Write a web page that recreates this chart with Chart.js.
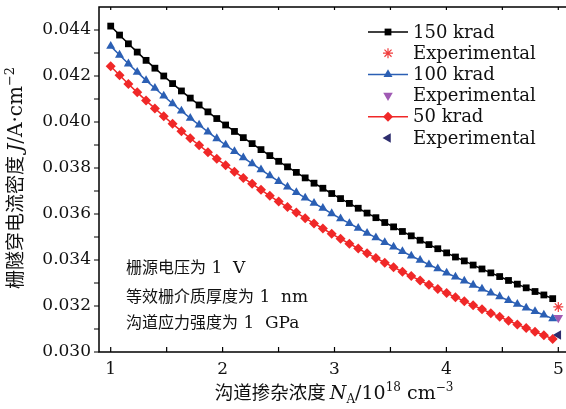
<!DOCTYPE html>
<html>
<head>
<meta charset="utf-8">
<script src="https://cdn.jsdelivr.net/npm/chart.js@4.4.1/dist/chart.umd.min.js"></script>
<style>
  html, body { margin: 0; padding: 0; background: #fff; }
</style>
</head>
<body>
<canvas id="jChart" width="566" height="409"></canvas>
<script>
// doping concentration N_A (1e18 cm^-3)
const xValues = [1.000, 1.079, 1.158, 1.237, 1.316, 1.395, 1.474, 1.553, 1.632, 1.711,
    1.790, 1.869, 1.948, 2.027, 2.106, 2.185, 2.264, 2.343, 2.422, 2.501,
    2.580, 2.659, 2.738, 2.817, 2.896, 2.975, 3.054, 3.133, 3.212, 3.291,
    3.370, 3.449, 3.528, 3.607, 3.686, 3.765, 3.844, 3.923, 4.002, 4.081,
    4.160, 4.239, 4.318, 4.397, 4.476, 4.555, 4.634, 4.713, 4.792, 4.871, 4.950];

// gate tunnelling current density J (A/cm^2)
const j150 = [0.04417, 0.04378, 0.04340, 0.04304, 0.04268, 0.04234, 0.04200, 0.04167, 0.04135, 0.04104,
    0.04074, 0.04044, 0.04015, 0.03987, 0.03959, 0.03932, 0.03906, 0.03880, 0.03854, 0.03829,
    0.03805, 0.03781, 0.03757, 0.03734, 0.03712, 0.03689, 0.03667, 0.03646, 0.03625, 0.03604,
    0.03584, 0.03563, 0.03544, 0.03524, 0.03505, 0.03486, 0.03467, 0.03449, 0.03431, 0.03413,
    0.03396, 0.03378, 0.03361, 0.03344, 0.03328, 0.03311, 0.03295, 0.03279, 0.03263, 0.03248, 0.03232];
const j100 = [0.04330, 0.04291, 0.04253, 0.04217, 0.04181, 0.04147, 0.04113, 0.04080, 0.04048, 0.04017,
    0.03987, 0.03957, 0.03928, 0.03900, 0.03872, 0.03845, 0.03819, 0.03793, 0.03767, 0.03742,
    0.03718, 0.03694, 0.03670, 0.03647, 0.03625, 0.03602, 0.03580, 0.03559, 0.03538, 0.03517,
    0.03497, 0.03476, 0.03457, 0.03437, 0.03418, 0.03399, 0.03380, 0.03362, 0.03344, 0.03326,
    0.03309, 0.03291, 0.03274, 0.03257, 0.03241, 0.03224, 0.03208, 0.03192, 0.03176, 0.03161, 0.03145];
const j50 = [0.04242, 0.04203, 0.04165, 0.04129, 0.04093, 0.04059, 0.04025, 0.03992, 0.03960, 0.03929,
    0.03899, 0.03869, 0.03840, 0.03812, 0.03784, 0.03757, 0.03731, 0.03705, 0.03679, 0.03654,
    0.03630, 0.03606, 0.03582, 0.03559, 0.03537, 0.03514, 0.03492, 0.03471, 0.03450, 0.03429,
    0.03409, 0.03388, 0.03369, 0.03349, 0.03330, 0.03311, 0.03292, 0.03274, 0.03256, 0.03238,
    0.03221, 0.03203, 0.03186, 0.03169, 0.03153, 0.03136, 0.03120, 0.03104, 0.03088, 0.03073, 0.03057];

// experimental points
const expX = [5];
const exp150 = [0.03196];
const exp100 = [0.03149];
const exp50 = [0.03074];

const xTicks = [1, 2, 3, 4, 5];
const xMinorTicks = [1, 1.5, 2, 2.5, 3, 3.5, 4, 4.5, 5];
const yTicks = [0.030, 0.032, 0.034, 0.036, 0.038, 0.040, 0.042, 0.044];
const yMinorTicks = [0.030, 0.031, 0.032, 0.033, 0.034, 0.035, 0.036, 0.037, 0.038, 0.039, 0.040, 0.041, 0.042, 0.043, 0.044];

const legendLabels = ['150 krad', 'Experimental', '100 krad', 'Experimental', '50 krad', 'Experimental'];
const noteLines = [
    ['栅源电压为', '1  V'],
    ['等效栅介质厚度为', '1  nm'],
    ['沟道应力强度为', '1  GPa']
];

const SERIF = '"DejaVu Serif", serif';
const CJK = '"Noto Sans CJK SC", sans-serif';

const pts = ys => ys.map((y, i) => ({ x: xValues[i], y: y }));
const expPts = ys => ys.map((y, i) => ({ x: expX[i], y: y }));

const datasets = [
    { label: legendLabels[0], data: pts(j150), showLine: true, borderColor: '#000000', backgroundColor: '#000000',
      borderWidth: 1.5, pointStyle: 'rect', pointRadius: 4.8, pointBorderWidth: 0 },
    { label: legendLabels[1], data: expPts(exp150), showLine: false, borderColor: '#f03c3c', backgroundColor: '#f03c3c',
      pointStyle: 'star', pointRadius: 5, pointBorderWidth: 1.2 },
    { label: legendLabels[2], data: pts(j100), showLine: true, borderColor: '#2b5fb4', backgroundColor: '#2b5fb4',
      borderWidth: 1.5, pointStyle: 'triangle', pointRadius: 5.2, pointBorderWidth: 0 },
    { label: legendLabels[3], data: expPts(exp100), showLine: false, borderColor: '#a05ab4', backgroundColor: '#a05ab4',
      pointStyle: 'triangle', pointRotation: 180, pointRadius: 5.5, pointBorderWidth: 0 },
    { label: legendLabels[4], data: pts(j50), showLine: true, borderColor: '#f02828', backgroundColor: '#f02828',
      borderWidth: 1.5, pointStyle: 'rectRot', pointRadius: 5, pointBorderWidth: 0 },
    { label: legendLabels[5], data: expPts(exp50), showLine: false, borderColor: '#2d2d6e', backgroundColor: '#2d2d6e',
      pointStyle: 'triangle', pointRotation: -90, pointRadius: 5.5, pointBorderWidth: 0 }
];

// draw text pieces one after another
function drawPieces(ctx, pieces, x, y) {
    pieces.forEach(p => {
        ctx.font = p.f;
        ctx.fillText(p.t, x, y + (p.dy || 0));
        x += ctx.measureText(p.t).width;
    });
}
function piecesWidth(ctx, pieces) {
    let w = 0;
    pieces.forEach(p => { ctx.font = p.f; w += ctx.measureText(p.t).width; });
    return w;
}

// chart.js adds label padding on its own, drop it so the plot area is where we want
function noPad(s) {
    s.paddingTop = 0; s.paddingBottom = 0; s.paddingLeft = 0; s.paddingRight = 0;
}

const decorPlugin = {
    id: 'decor',
    afterDraw(chart) {
        const ctx = chart.ctx;
        const a = chart.chartArea;
        const xs = chart.scales.x, ys = chart.scales.y;
        ctx.save();

        // frame
        ctx.strokeStyle = '#000';
        ctx.lineWidth = 1.5;
        ctx.beginPath();
        ctx.moveTo(a.right, a.top);
        ctx.lineTo(a.left, a.top);
        ctx.lineTo(a.left, a.bottom);
        ctx.lineTo(a.right, a.bottom);
        ctx.stroke();

        // ticks
        ctx.lineWidth = 1.2;
        ctx.beginPath();
        xMinorTicks.forEach(v => {
            const px = xs.getPixelForValue(v);
            ctx.moveTo(px, a.bottom); ctx.lineTo(px, a.bottom - 5);
            ctx.moveTo(px, a.top); ctx.lineTo(px, a.top + 3);
        });
        yMinorTicks.forEach(v => {
            const py = ys.getPixelForValue(v);
            ctx.moveTo(a.left, py); ctx.lineTo(a.left - 5, py);
        });
        ctx.stroke();

        // legend
        const lx = 368, lw = 40, tx = 413;
        ctx.textBaseline = 'middle';
        chart.data.datasets.forEach((ds, i) => {
            const ly = 32 + i * 21.2;
            if (ds.showLine) {
                ctx.strokeStyle = ds.borderColor;
                ctx.lineWidth = 1.5;
                ctx.beginPath();
                ctx.moveTo(lx, ly); ctx.lineTo(lx + lw, ly);
                ctx.stroke();
            }
            ctx.fillStyle = ds.backgroundColor;
            ctx.strokeStyle = ds.borderColor;
            ctx.lineWidth = ds.pointBorderWidth || 1;
            Chart.helpers.drawPoint(ctx, {
                pointStyle: ds.pointStyle, radius: ds.pointRadius,
                rotation: ds.pointRotation || 0, borderWidth: ds.pointBorderWidth
            }, lx + lw / 2, ly);
            ctx.fillStyle = '#111';
            ctx.font = '18px ' + SERIF;
            ctx.fillText(ds.label, tx, ly + 1);
        });

        // notes
        ctx.textBaseline = 'alphabetic';
        ctx.fillStyle = '#111';
        const noteY = [273, 302, 328];
        noteLines.forEach((ln, i) => {
            drawPieces(ctx, [
                { t: ln[0], f: '16px ' + CJK },
                { t: ' ' + ln[1], f: '17px ' + SERIF }
            ], 126, noteY[i]);
        });

        // x title
        const xt = [
            { t: '沟道掺杂浓度 ', f: '18.5px ' + CJK },
            { t: 'N', f: 'italic 19px ' + SERIF },
            { t: 'A', f: '12px ' + SERIF, dy: 4 },
            { t: '/10', f: '19px ' + SERIF },
            { t: '18', f: '12px ' + SERIF, dy: -8 },
            { t: ' cm', f: '19px ' + SERIF },
            { t: '\u22123', f: '12px ' + SERIF, dy: -8 }
        ];
        const xw = piecesWidth(ctx, xt);
        drawPieces(ctx, xt, 334 - xw / 2, 399);

        // y title
        const yt = [
            { t: '栅隧穿电流密度 ', f: '19px ' + CJK },
            { t: 'J', f: 'italic 20px ' + SERIF },
            { t: '/A\u00b7cm', f: '20px ' + SERIF },
            { t: '\u22122', f: '13px ' + SERIF, dy: -8 }
        ];
        const yw = piecesWidth(ctx, yt);
        ctx.translate(22, 178);
        ctx.rotate(-Math.PI / 2);
        drawPieces(ctx, yt, -yw / 2, 0);

        ctx.restore();
    }
};

const ctx = document.getElementById('jChart').getContext('2d');
const jChart = new Chart(ctx, {
    type: 'scatter',
    data: { datasets: datasets },
    options: {
        responsive: false,
        animation: false,
        layout: { autoPadding: false, padding: { top: 7, right: 0, left: 0, bottom: 0 } },
        plugins: {
            legend: { display: false },
            tooltip: { enabled: false }
        },
        elements: { line: { tension: 0 } },
        scales: {
            x: {
                type: 'linear',
                min: 0.8954,
                max: 5.0688,
                grid: { display: false, drawTicks: false },
                border: { display: false },
                afterBuildTicks: s => { s.ticks = xTicks.map(v => ({ value: v })); },
                afterFit: s => { s.height = 57; noPad(s); },
                ticks: {
                    padding: 7, maxRotation: 0, autoSkip: false, color: '#111',
                    font: { family: SERIF, size: 17 },
                    callback: v => String(v)
                }
            },
            y: {
                type: 'linear',
                min: 0.030,
                max: 0.045,
                grid: { display: false, drawTicks: false },
                border: { display: false },
                afterBuildTicks: s => { s.ticks = yTicks.map(v => ({ value: v })); },
                afterFit: s => { s.width = 99; noPad(s); },
                ticks: {
                    padding: 8, autoSkip: false, color: '#111',
                    font: { family: SERIF, size: 17 },
                    callback: v => v.toFixed(3)
                }
            }
        }
    },
    plugins: [decorPlugin]
});
</script>
</body>
</html>
